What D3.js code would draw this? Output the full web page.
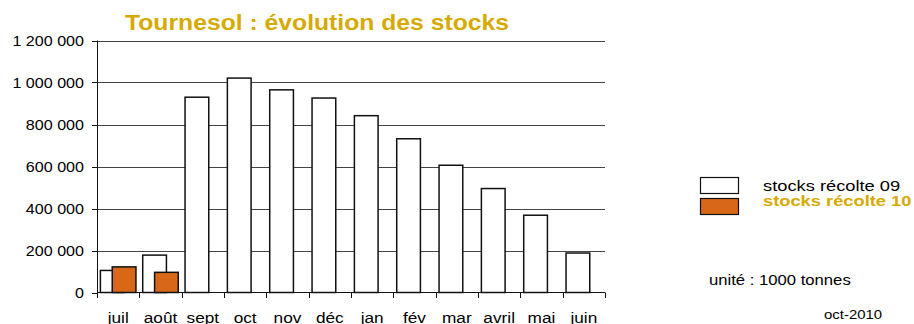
<!DOCTYPE html>
<html>
<head>
<meta charset="utf-8">
<script src="https://cdn.jsdelivr.net/npm/d3@7"></script>
<style>
  html, body { margin: 0; padding: 0; background: #fff; }
  svg { display: block; font-family: Arial, "Liberation Sans", sans-serif; }
</style>
</head>
<body>
<svg id="chart" width="914" height="324"></svg>
<script>
// Monthly stocks of sunflower (unit: 1000 t)
const months = ["juil", "août", "sept", "oct", "nov", "déc", "jan", "fév", "mar", "avril", "mai", "juin"];
const stocks09 = [105000, 178000, 930000, 1021000, 965000, 926000, 842000, 732000, 606000, 495000, 368000, 188000];
const stocks10 = [122000, 96000, null, null, null, null, null, null, null, null, null, null];
const yTicks = [0, 200000, 400000, 600000, 800000, 1000000, 1200000];
const seriesNames = ["stocks récolte 09", "stocks récolte 10"];
const titleText = "Tournesol : évolution des stocks";
const unitText = "unité : 1000 tonnes";
const dateText = "oct-2010";

const gold = "#D6AA00";
const orange = "#D86818";
const SX = 1.15; // horizontal stretch of the lettering

const svg = d3.select("#chart");
const fr = d3.formatLocale({ decimal: ",", thousands: " ", grouping: [3], currency: ["", ""] });
const fmt = fr.format(",d");

const x = d3.scaleBand().domain(months).range([97, 605]).padding(0);
const y = d3.scaleLinear().domain([0, 1200000]).range([292.5, 40.5]);
const bw = x.bandwidth();

function stretchedText(g, tx, ty, str, size, opts = {}) {
  return g.append("text")
    .attr("transform", `translate(${tx},${ty}) scale(${opts.sx || SX},1)`)
    .attr("font-size", size)
    .attr("font-weight", opts.bold ? "bold" : "normal")
    .attr("text-anchor", opts.anchor || "start")
    .attr("fill", opts.fill || "#000")
    .text(str);
}

// Title
stretchedText(svg, 317, 29.5, titleText, 21.5, { bold: true, anchor: "middle", fill: gold });

// Horizontal grid lines
svg.append("g").selectAll("line")
  .data(yTicks.filter(d => d > 0))
  .join("line")
  .attr("x1", 97).attr("x2", 605)
  .attr("y1", d => Math.round(y(d)) + 0.5).attr("y2", d => Math.round(y(d)) + 0.5)
  .attr("stroke", "#444").attr("stroke-width", 1);

// Bars: 09 series behind, 10 series overlapping on top
const bars = svg.append("g");
bars.selectAll("rect.s09")
  .data(months.map((m, i) => ({ m, v: stocks09[i] })).filter(d => d.v != null))
  .join("rect").attr("class", "s09")
  .attr("x", d => x(d.m) + bw * 0.08)
  .attr("width", bw * 0.56)
  .attr("y", d => y(d.v))
  .attr("height", d => y(0) - y(d.v))
  .attr("fill", "#fff").attr("stroke", "#111").attr("stroke-width", 1.5);
bars.selectAll("rect.s10")
  .data(months.map((m, i) => ({ m, v: stocks10[i] })).filter(d => d.v != null))
  .join("rect").attr("class", "s10")
  .attr("x", d => x(d.m) + bw * 0.36)
  .attr("width", bw * 0.56)
  .attr("y", d => y(d.v))
  .attr("height", d => y(0) - y(d.v))
  .attr("fill", orange).attr("stroke", "#111").attr("stroke-width", 1.5);

// Left axis
const yAxis = svg.append("g");
yAxis.append("line")
  .attr("x1", 97.5).attr("x2", 97.5).attr("y1", y(1200000)).attr("y2", y(0))
  .attr("stroke", "#111");
yAxis.selectAll("line.tick")
  .data(yTicks).join("line").attr("class", "tick")
  .attr("x1", 92).attr("x2", 97.5)
  .attr("y1", d => Math.round(y(d)) + 0.5).attr("y2", d => Math.round(y(d)) + 0.5)
  .attr("stroke", "#111");
yTicks.forEach(d => stretchedText(yAxis, 84, y(d) + 5, fmt(d), 14, { anchor: "end" }));

// Bottom axis
const xAxis = svg.append("g");
xAxis.append("line")
  .attr("x1", 97).attr("x2", 605).attr("y1", 292.5).attr("y2", 292.5)
  .attr("stroke", "#111");
const bounds = months.map(m => x(m)).concat([x.range()[1]]);
xAxis.selectAll("line.tick")
  .data(bounds).join("line").attr("class", "tick")
  .attr("x1", d => Math.round(d) + 0.5).attr("x2", d => Math.round(d) + 0.5)
  .attr("y1", 292.5).attr("y2", 298)
  .attr("stroke", "#111");
months.forEach(m => stretchedText(xAxis, x(m) + bw / 2, 322.5, m, 15, { anchor: "middle" }));

// Legend
const lg = svg.append("g");
lg.append("rect").attr("x", 700.5).attr("y", 177.5).attr("width", 38).attr("height", 16)
  .attr("fill", "#fff").attr("stroke", "#111").attr("stroke-width", 1.2);
lg.append("rect").attr("x", 700.5).attr("y", 198.5).attr("width", 38).attr("height", 16)
  .attr("fill", orange).attr("stroke", "#111").attr("stroke-width", 1.2);
stretchedText(lg, 763, 190.5, seriesNames[0], 15, { sx: 1.22 });
stretchedText(lg, 763, 206, seriesNames[1], 15, { sx: 1.22, bold: true, fill: gold });

// Notes
stretchedText(svg, 709, 285, unitText, 14.5);
stretchedText(svg, 824, 319, dateText, 13);
</script>
</body>
</html>
